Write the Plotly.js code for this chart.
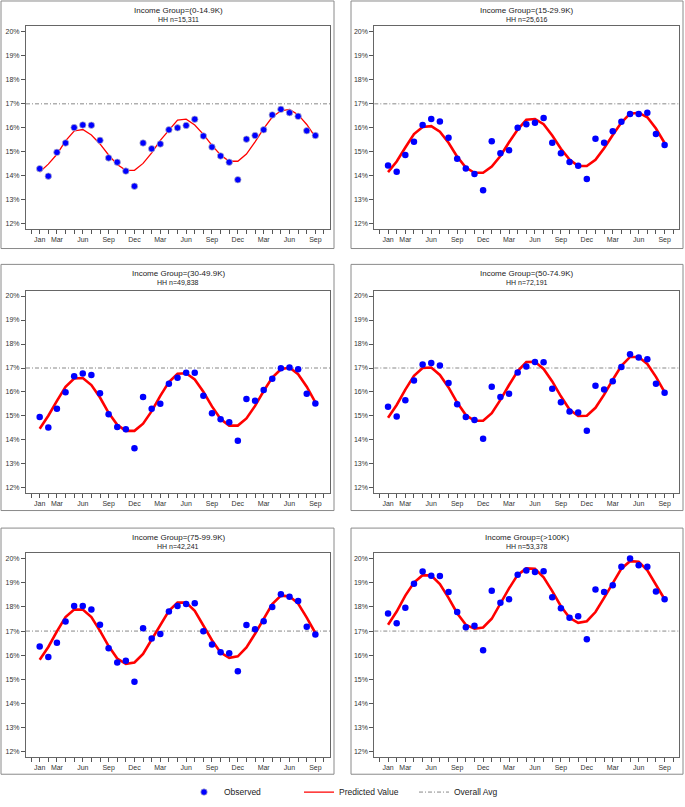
<!DOCTYPE html>
<html><head><meta charset="utf-8">
<script src="https://cdn.plot.ly/plotly-3.0.1.min.js"></script>
<style>html,body{margin:0;padding:0;background:#fff}#chart{width:685px;height:807px}</style>
</head><body><div id="chart"></div>
<script>
// ---------- DATA ----------
const monthIndex = [0,1,2,3,4,5,6,7,8,9,10,11,12,13,14,15,16,17,18,19,20,21,22,23,24,25,26,27,28,29,30,31,32];
const axisTicks = [-1,0,1,2,3,4,5,6,7,8,9,10,11,12,13,14,15,16,17,18,19,20,21,22,23,24,25,26,27,28,29,30,31,32,33];
const axisTickText = ['','Jan','','Mar','','','Jun','','','Sep','','','Dec','','','Mar','','','Jun','','','Sep','','','Dec','','','Mar','','','Jun','','','Sep',''];
const yTicks = [12,13,14,15,16,17,18,19,20];
const yTickText = ['12%','13%','14%','15%','16%','17%','18%','19%','20%'];

const groupNames = ['Income Group=(0-14.9K)','Income Group=(15-29.9K)','Income Group=(30-49.9K)','Income Group=(50-74.9K)','Income Group=(75-99.9K)','Income Group=(>100K)'];
const hhCounts = ['HH n=15,311','HH n=25,616','HH n=49,838','HH n=72,191','HH n=42,241','HH n=53,378'];
const overallAvg = 17;

const observed1 = [14.30,13.99,14.98,15.37,16.01,16.12,16.11,15.48,14.75,14.57,14.20,13.57,15.37,15.13,15.33,15.92,16.00,16.10,16.36,15.66,15.20,14.83,14.57,13.84,15.53,15.68,15.92,16.54,16.77,16.63,16.48,15.88,15.68];
const predicted1 = [14.16,14.49,14.90,15.46,15.87,15.93,15.70,15.33,14.87,14.47,14.23,14.23,14.52,14.96,15.48,15.92,16.32,16.36,16.12,15.73,15.27,14.87,14.61,14.61,14.91,15.42,15.97,16.45,16.71,16.77,16.55,16.14,15.61];
const observed2 = [14.43,14.17,14.87,15.42,16.12,16.37,16.26,15.59,14.71,14.31,14.08,13.40,15.44,14.94,15.07,16.00,16.15,16.21,16.41,15.38,14.94,14.58,14.42,13.87,15.55,15.38,15.86,16.25,16.58,16.58,16.63,15.74,15.29];
const predicted2 = [14.16,14.60,15.18,15.74,16.04,16.07,15.84,15.38,14.80,14.35,14.13,14.13,14.39,14.83,15.40,15.93,16.34,16.37,16.15,15.68,15.13,14.68,14.41,14.41,14.67,15.15,15.70,16.22,16.59,16.63,16.44,15.97,15.37];
const observed3 = [14.96,14.52,15.30,15.99,16.66,16.77,16.71,15.95,15.07,14.54,14.45,13.65,15.79,15.30,15.51,16.34,16.59,16.80,16.80,15.84,15.11,14.86,14.74,13.97,15.71,15.63,16.08,16.55,16.99,17.02,16.95,15.93,15.52];
const predicted3 = [14.47,15.01,15.63,16.22,16.56,16.58,16.29,15.77,15.13,14.63,14.38,14.38,14.68,15.20,15.84,16.41,16.76,16.78,16.52,16.01,15.40,14.87,14.60,14.60,14.90,15.42,16.04,16.60,16.95,17.02,16.74,16.22,15.57];
const observed4 = [15.38,14.98,15.66,16.48,17.15,17.21,17.10,16.37,15.49,14.96,14.83,14.05,16.22,15.79,15.93,16.81,17.06,17.25,17.24,16.14,15.57,15.19,15.15,14.38,16.26,16.10,16.45,17.04,17.57,17.44,17.36,16.34,15.97];
const predicted4 = [14.93,15.46,16.10,16.67,17.00,17.02,16.71,16.19,15.56,15.04,14.80,14.80,15.12,15.67,16.29,16.87,17.25,17.26,16.96,16.44,15.82,15.27,15.00,15.01,15.34,15.89,16.51,17.09,17.46,17.46,17.17,16.63,15.99];
const observed5 = [16.36,15.93,16.52,17.40,18.04,18.04,17.90,17.26,16.29,15.70,15.77,14.90,17.12,16.69,16.88,17.81,18.04,18.12,18.15,16.99,16.44,16.12,16.08,15.33,17.25,17.08,17.41,18.00,18.53,18.42,18.25,17.18,16.86];
const predicted5 = [15.81,16.34,16.99,17.58,17.89,17.89,17.58,17.01,16.38,15.86,15.64,15.70,16.05,16.63,17.26,17.84,18.18,18.18,17.84,17.25,16.62,16.11,15.89,15.95,16.32,16.89,17.53,18.12,18.47,18.44,18.14,17.56,16.92];
const observed6 = [17.73,17.32,17.97,18.96,19.47,19.30,19.29,18.62,17.79,17.16,17.22,16.21,18.67,18.18,18.32,19.34,19.51,19.45,19.48,18.40,17.95,17.55,17.62,16.66,18.73,18.62,18.90,19.67,20.01,19.73,19.67,18.64,18.32];
const predicted6 = [17.26,17.81,18.47,19.01,19.32,19.30,18.95,18.38,17.74,17.26,17.10,17.15,17.51,18.14,18.77,19.33,19.60,19.58,19.23,18.66,18.03,17.55,17.34,17.41,17.79,18.38,19.01,19.59,19.90,19.88,19.52,18.93,18.32];

const observedAll = [observed1,observed2,observed3,observed4,observed5,observed6];
const predictedAll = [predicted1,predicted2,predicted3,predicted4,predicted5,predicted6];

// ---------- LAYOUT / STYLE ----------
const W = 685, H = 807;
const FONT = 'Liberation Sans, Arial, sans-serif';
const colPx = [[26,330],[374.3,679.3]];
const rowPx = [[26.7,231],[293.3,497.3],[558.3,763.3]];
const boxColPx = [[1,334],[351,683]];
const boxRowPx = [[1,250.7],[266.7,515],[532.7,781]];
const titleRowPx = [[10.7,19.2],[276,285],[542.3,551.7]];
const predWidth = [1.3,2.6,2.6,2.6,2.6,2.6];

const data = [];
const layout = {
  width: W, height: H,
  margin: {l:0,r:0,t:0,b:0},
  paper_bgcolor: '#fff', plot_bgcolor: '#fff',
  font: {family: FONT, color: '#222'},
  showlegend: true,
  legend: {orientation:'h', x: 184/W, xanchor:'left', y: 1-799/807, yanchor:'middle',
           font:{size:8.5, family:FONT, color:'#222'}, entrywidth: 70, entrywidthmode:'pixels',
           itemwidth: 30, bgcolor:'rgba(0,0,0,0)', tracegroupgap: 0},
  shapes: [], annotations: []
};

for (let i = 0; i < 6; i++) {
  const r = Math.floor(i/2), c = i%2;
  const ax = i === 0 ? '' : String(i+1);
  const xd = [colPx[c][0]/W, colPx[c][1]/W];
  const yd = [1-rowPx[r][1]/H, 1-rowPx[r][0]/H];
  layout['xaxis'+ax] = {
    domain: xd, anchor: 'y'+ax, range: [-1.59, 33.7],
    tickmode: 'array', tickvals: axisTicks, ticktext: axisTickText,
    ticks: 'outside', ticklen: 4, tickcolor: '#555', tickwidth: 1,
    showline: true, linecolor: '#666', linewidth: 1, mirror: true,
    showgrid: false, zeroline: false,
    tickfont: {size: 7, family: FONT, color: '#333'}
  };
  layout['yaxis'+ax] = {
    domain: yd, anchor: 'x'+ax, range: [11.79, 20.22],
    tickmode: 'array', tickvals: yTicks, ticktext: yTickText,
    ticks: 'outside', ticklen: 4, tickcolor: '#555', tickwidth: 1,
    showline: true, linecolor: '#666', linewidth: 1, mirror: true,
    showgrid: false, zeroline: false,
    tickfont: {size: 7, family: FONT, color: '#333'}
  };
  // overall average line
  layout.shapes.push({
    type: 'line', xref: 'x'+ax+' domain', yref: 'y'+ax, x0: 0, x1: 1, y0: overallAvg, y1: overallAvg,
    line: {color: '#888', width: 1, dash: '4px,2px,1px,2px'}, layer: 'below',
    showlegend: i === 0, name: 'Overall Avg', legendrank: 3
  });
  // panel frame
  layout.shapes.push({
    type: 'rect', xref: 'paper', yref: 'paper',
    x0: boxColPx[c][0]/W, x1: boxColPx[c][1]/W, y0: 1-boxRowPx[r][1]/H, y1: 1-boxRowPx[r][0]/H,
    line: {color: '#8a8a8a', width: 1}, fillcolor: 'rgba(0,0,0,0)'
  });
  const cx = (xd[0]+xd[1])/2;
  layout.annotations.push({xref:'paper', yref:'paper', x: cx, y: 1-titleRowPx[r][0]/H, text: groupNames[i],
    showarrow:false, xanchor:'center', yanchor:'middle', font:{size:8, family:FONT, color:'#222'}});
  layout.annotations.push({xref:'paper', yref:'paper', x: cx, y: 1-titleRowPx[r][1]/H, text: hhCounts[i],
    showarrow:false, xanchor:'center', yanchor:'middle', font:{size:7, family:FONT, color:'#222'}});

  data.push({
    type: 'scatter', mode: 'lines', x: monthIndex, y: predictedAll[i],
    xaxis: 'x'+ax, yaxis: 'y'+ax, name: 'Predicted Value', legendrank: 2,
    line: {color: '#ff0000', width: predWidth[i]}, showlegend: i === 0, hoverinfo: 'skip'
  });
  data.push({
    type: 'scatter', mode: 'markers', x: monthIndex, y: observedAll[i],
    xaxis: 'x'+ax, yaxis: 'y'+ax, name: 'Observed', legendrank: 1,
    marker: {color: '#0000ff', size: 6.5,
             line: {color: i === 0 ? 'rgba(190,190,200,0.7)' : 'rgba(0,0,0,0)', width: i === 0 ? 1 : 0}},
    showlegend: i === 0, hoverinfo: 'skip'
  });
}

Plotly.newPlot('chart', data, layout, {staticPlot: true, displayModeBar: false});
</script>
</body></html>
